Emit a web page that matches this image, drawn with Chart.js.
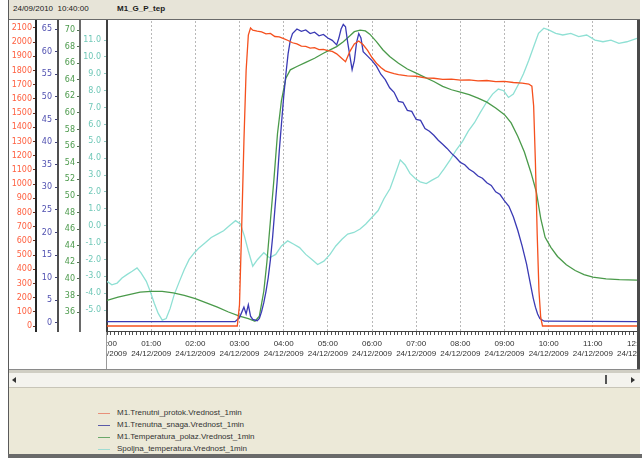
<!DOCTYPE html>
<html>
<head>
<meta charset="utf-8">
<script src="https://cdn.jsdelivr.net/npm/chart.js@4.4.1/dist/chart.umd.min.js"></script>
<style>
html,body{margin:0;padding:0;width:642px;height:458px;overflow:hidden;background:#ffffff;}
#wrap{position:relative;width:642px;height:458px;overflow:hidden;background:#ffffff;font-family:"Liberation Sans",Arial,sans-serif;}
.abs{position:absolute;}
#hdr{left:9px;top:0;width:631px;height:19px;background:#e7e4d8;border-bottom:1px solid #6a6a6a;}
#hdr span{position:absolute;top:4px;font-size:8px;color:#202020;white-space:nowrap;}
#frameL{left:8px;top:0;width:1px;height:458px;background:#5a5a5a;}
#cv{position:absolute;left:10px;top:20px;background:#ffffff;}
#maskBL{left:10px;top:332px;width:96px;height:37px;background:#fff;border-right:1px solid #9a9a9a;}
#frameR{left:637px;top:20px;width:3px;height:349px;background:#4a4a4a;}
#sepH{left:9px;top:369px;width:631px;height:3px;background:#d0cec4;border-top:1px solid #8a8a8a;}
#scroll{left:9px;top:373px;width:631px;height:14px;background:#f4f3ee;border-bottom:1px solid #c8c5b8;}
#legend{left:9px;top:388px;width:631px;height:66px;background:#ece9d8;}
#bottom{left:8px;top:454px;width:634px;height:4px;background:#6a6a6a;}
.lg{position:absolute;left:108px;font-size:8px;line-height:10px;color:#333;white-space:nowrap;}
.ll{position:absolute;left:89px;width:12px;height:1px;}
.tri{position:absolute;width:0;height:0;}
</style>
</head>
<body>
<div id="wrap">
  <div id="frameL" class="abs"></div>
  <div id="hdr" class="abs"><span style="left:4px">24/09/2010&nbsp; 10:40:00</span><span style="left:108px;font-weight:bold">M1_G_P_tep</span></div>
  <canvas id="cv" width="627" height="349"></canvas>
  <div id="maskBL" class="abs"></div>
  <div id="frameR" class="abs"></div>
  <div id="sepH" class="abs"></div>
  <div id="scroll" class="abs">
    <div class="tri" style="left:3px;top:4px;border-top:3px solid transparent;border-bottom:3px solid transparent;border-right:4px solid #333;"></div>
    <div style="position:absolute;left:596px;top:2px;width:2px;height:9px;background:#555;"></div>
    <div class="tri" style="left:622px;top:4px;border-top:3px solid transparent;border-bottom:3px solid transparent;border-left:4px solid #333;"></div>
  </div>
  <div id="legend" class="abs">
    <div class="ll" style="top:25px;background:#e8907a"></div><div class="lg" style="top:20px">M1.Trenutni_protok.Vrednost_1min</div>
    <div class="ll" style="top:37px;background:#5a5aa8"></div><div class="lg" style="top:32px">M1.Trenutna_snaga.Vrednost_1min</div>
    <div class="ll" style="top:49px;background:#6aa86a"></div><div class="lg" style="top:44px">M1.Temperatura_polaz.Vrednost_1min</div>
    <div class="ll" style="top:61px;background:#9fdcd2"></div><div class="lg" style="top:56px">Spoljna_temperatura.Vrednost_1min</div>
  </div>
  <div id="bottom" class="abs"></div>
</div>
<script>
// ---- tick labels ----
const hourLabels = ['00:00','01:00','02:00','03:00','04:00','05:00','06:00','07:00','08:00','09:00','10:00','11:00','12:00'];
const dateLabels = ['24/12/2009','24/12/2009','24/12/2009','24/12/2009','24/12/2009','24/12/2009','24/12/2009','24/12/2009','24/12/2009','24/12/2009','24/12/2009','24/12/2009','24/12/2009'];
const redTicks = [0,100,200,300,400,500,600,700,800,900,1000,1100,1200,1300,1400,1500,1600,1700,1800,1900,2000,2100];
const blueTicks = [0,5,10,15,20,25,30,35,40,45,50,55,60,65];
const greenTicks = [36,38,40,42,44,46,48,50,52,54,56,58,60,62,64,66,68,70];
const cyanTicks = [-5,-4,-3,-2,-1,0,1,2,3,4,5,6,7,8,9,10,11];

// ---- series: time in hours from 00:00 ----
const flowT = [0,2.95,3.0,3.05,3.1,3.15,3.2,3.25,3.3,3.4,3.5,3.6,3.7,3.8,3.9,4.0,4.1,4.2,4.3,4.4,4.5,4.6,4.7,4.8,4.9,5.0,5.1,5.2,5.3,5.4,5.5,5.6,5.7,5.8,5.9,6.0,6.1,6.2,6.3,6.4,6.5,6.6,6.8,7.0,7.2,7.4,7.6,7.8,8.0,8.2,8.4,8.6,8.8,9.0,9.2,9.4,9.55,9.62,9.66,9.7,9.74,9.78,9.82,9.86,12];
const flowV = [0,0,150,700,1300,1800,2050,2100,2085,2078,2072,2058,2062,2040,2038,2025,2012,1996,1988,1972,1970,1958,1962,1948,1950,1940,1935,1918,1890,1862,1935,1988,2008,1982,1942,1892,1852,1822,1798,1788,1778,1772,1762,1760,1748,1746,1738,1740,1733,1735,1728,1730,1722,1724,1716,1712,1705,1690,1550,1150,650,250,60,0,0];

const powerT = [0,2.9,3.0,3.1,3.15,3.2,3.25,3.3,3.4,3.45,3.5,3.55,3.6,3.65,3.7,3.75,3.8,3.85,3.9,3.95,4.0,4.05,4.1,4.15,4.2,4.3,4.4,4.5,4.6,4.7,4.8,4.9,5.0,5.1,5.2,5.25,5.3,5.35,5.4,5.45,5.5,5.55,5.6,5.65,5.7,5.75,5.8,5.9,6.0,6.1,6.2,6.3,6.4,6.5,6.6,6.7,6.8,6.9,7.0,7.1,7.2,7.3,7.4,7.5,7.6,7.7,7.8,7.9,8.0,8.1,8.2,8.3,8.4,8.5,8.6,8.7,8.8,8.9,9.0,9.1,9.2,9.3,9.4,9.45,9.5,9.55,9.6,9.65,9.7,9.75,9.8,9.9,12];
const powerV = [0.3,0.3,1.2,3.5,2.0,4.0,1.5,0.8,0.5,1.0,2.5,4.5,7,10,14,19,25,31,38,44,50,55,59.5,62.5,64,65,64.5,64.8,64,64.3,63.5,63.8,63,62.5,61.5,63,65,66,65.5,62,59,56,58,62,64,63,60,59,58,56.8,55,53.8,52,51,49,48.8,47,46.8,45,44.8,43,42.4,41.5,40.4,39.5,38.6,37.5,36.6,35.5,35,34,33.4,32.5,32,31,30.4,29,28.4,27,25.8,23.5,20.5,17,15,13,10.5,8,5.5,3.5,2,1,0.4,0.3];

const tempT = [0,0.25,0.5,0.75,1.0,1.25,1.5,1.75,2.0,2.25,2.5,2.75,3.0,3.2,3.35,3.45,3.55,3.62,3.7,3.78,3.86,3.95,4.05,4.15,4.3,4.5,4.7,4.9,5.05,5.2,5.35,5.5,5.6,5.73,5.85,5.95,6.1,6.25,6.4,6.6,6.8,7.0,7.2,7.4,7.6,7.8,8.0,8.2,8.4,8.6,8.8,9.0,9.15,9.3,9.45,9.6,9.72,9.82,9.92,10.05,10.2,10.4,10.6,10.8,11.0,11.3,11.6,12];
const tempV = [37.4,37.8,38.1,38.4,38.5,38.5,38.3,38.0,37.6,37.1,36.6,36.0,35.5,35.2,34.9,35.5,38.5,42,47,52,57.5,61.5,64.2,65.2,65.6,66.1,66.6,67.2,67.6,68.0,68.6,69.3,69.8,70.0,69.9,69.5,68.6,67.6,66.8,66.0,65.3,64.8,64.3,63.8,63.2,62.8,62.5,62.2,61.8,61.3,60.6,59.8,58.8,57.2,55.3,52.8,50.5,47.3,45.0,43.8,42.7,41.7,41.0,40.5,40.2,40.0,39.9,39.85];

const outT = [0,0.11,0.23,0.34,0.45,0.57,0.68,0.77,0.89,0.98,1.07,1.16,1.25,1.34,1.43,1.52,1.64,1.75,1.86,1.98,2.09,2.23,2.36,2.5,2.64,2.77,2.91,3.02,3.11,3.2,3.3,3.41,3.55,3.68,3.82,3.95,4.09,4.23,4.36,4.5,4.64,4.77,4.91,5.05,5.18,5.32,5.45,5.59,5.73,5.86,6.0,6.14,6.27,6.41,6.52,6.64,6.75,6.86,6.98,7.09,7.23,7.36,7.5,7.64,7.77,7.91,8.05,8.18,8.32,8.45,8.59,8.73,8.86,8.98,9.09,9.2,9.32,9.43,9.55,9.66,9.77,9.89,10.0,10.16,10.32,10.5,10.68,10.86,11.05,11.23,11.41,11.59,11.77,12];
const outV = [-3.3,-3.5,-3.4,-3.1,-2.9,-2.7,-2.5,-2.8,-3.3,-3.9,-4.6,-5.2,-5.6,-5.5,-4.9,-4.1,-3.3,-2.6,-2.0,-1.6,-1.3,-1.0,-0.7,-0.5,-0.3,0.0,0.3,0.1,-0.6,-1.5,-2.4,-2.0,-1.6,-1.9,-1.7,-1.2,-0.9,-1.1,-1.3,-1.7,-2.0,-2.3,-2.1,-1.7,-1.2,-0.8,-0.5,-0.4,-0.2,0.1,0.5,0.9,1.6,2.2,3.0,3.9,3.6,3.1,2.8,2.6,2.5,2.7,2.9,3.4,3.9,4.5,5.0,5.6,6.1,6.7,7.3,7.8,8.1,8.0,7.6,7.8,8.4,9.0,9.8,10.6,11.4,11.7,11.6,11.4,11.3,11.4,11.2,11.3,11.0,10.9,11.0,10.8,10.9,11.1];

const zip = (t, v) => t.map((x, i) => ({x, y: v[i]}));
const isHour = v => Math.abs(v - Math.round(v)) < 1e-6;
const xTickVals = [];
for (let i = 0; i <= 144; i++) xTickVals.push(i / 12);

function yAxis(o) {
  return {
    type: 'linear', position: 'left', min: o.min, max: o.max, weight: o.weight,
    afterBuildTicks: s => { s.ticks = o.ticks.map(v => ({value: v})); },
    afterFit: s => { s.width = o.width; s.paddingTop = 0; s.paddingBottom = 0; },
    grid: {display: true, drawOnChartArea: false, drawTicks: true, tickLength: 3, tickColor: o.tickColor, tickWidth: 1},
    border: {display: true, color: o.border, width: 2},
    ticks: {autoSkip: false, color: o.color, padding: o.pad, font: {family: 'DejaVu Sans', size: 8}, callback: o.fmt}
  };
}

new Chart(document.getElementById('cv'), {
  type: 'line',
  data: {datasets: [
    {label: 'M1.Trenutni_protok.Vrednost_1min', data: zip(flowT, flowV), borderColor: '#f5501e', yAxisID: 'yR'},
    {label: 'M1.Trenutna_snaga.Vrednost_1min', data: zip(powerT, powerV), borderColor: '#3a3ab4', yAxisID: 'yB'},
    {label: 'M1.Temperatura_polaz.Vrednost_1min', data: zip(tempT, tempV), borderColor: '#4a9a4a', yAxisID: 'yG'},
    {label: 'Spoljna_temperatura.Vrednost_1min', data: zip(outT, outV), borderColor: '#8fe0d4', yAxisID: 'yC'}
  ]},
  options: {
    responsive: false, animation: false, devicePixelRatio: 1,
    layout: {padding: {top: 1, left: 0, right: 0, bottom: 0}},
    plugins: {legend: {display: false}, tooltip: {enabled: false}},
    elements: {point: {radius: 0}, line: {borderWidth: 1.3, tension: 0}},
    scales: {
      x: {
        type: 'linear', min: 0, max: 12,
        afterBuildTicks: s => { s.ticks = xTickVals.map(v => ({value: v})); },
        afterFit: s => { s.height = 38; s.paddingLeft = 0; s.paddingRight = 0; },
        grid: {
          color: c => (c.tick && isHour(c.tick.value) && c.tick.value > 0.01 && c.tick.value < 11.99) ? '#b8b8b8' : 'rgba(0,0,0,0)',
          lineWidth: 1, tickColor: '#505050', tickLength: 4, tickWidth: 1
        },
        border: {display: true, color: '#404040', width: 1, dash: [2, 2]},
        ticks: {
          autoSkip: false, maxRotation: 0, minRotation: 0, padding: 4, color: '#303030',
          font: {family: 'Liberation Sans', size: 8, lineHeight: 1.2},
          callback: v => { if (!isHour(v)) return ''; const h = Math.round(v); return [hourLabels[h], dateLabels[h]]; }
        }
      },
      yR: yAxis({min: -35.2, max: 2149.3, weight: 4, ticks: redTicks, width: 26, color: '#ff6040', tickColor: '#703020', border: '#262626', pad: 1, fmt: v => String(v)}),
      yB: yAxis({min: -1.77, max: 66.77, weight: 3, ticks: blueTicks, width: 22, color: '#5050b0', tickColor: '#40407a', border: '#505050', pad: 3, fmt: v => String(v)}),
      yG: yAxis({min: 33.71, max: 71.09, weight: 2, ticks: greenTicks, width: 22, color: '#4c9a4c', tickColor: '#507050', border: '#6a6a6a', pad: 2, fmt: v => String(v)}),
      yC: yAxis({min: -6.24, max: 12.13, weight: 1, ticks: cyanTicks, width: 27, color: '#70c8b8', tickColor: '#90c8c0', border: '#404040', pad: 3, fmt: v => v.toFixed(1)})
    }
  }
});
</script>
</body>
</html>
